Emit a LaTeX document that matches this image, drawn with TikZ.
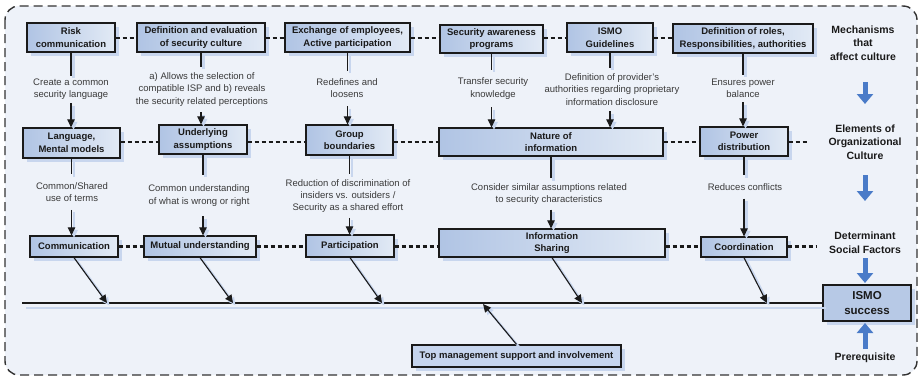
\documentclass[tikz,border=0pt]{standalone}
\usepackage{fontspec}
\setmainfont{Liberation Sans}
\usetikzlibrary{arrows.meta,shadows}

\definecolor{bgpanel}{HTML}{EEF2F9}
\definecolor{boxdark}{HTML}{B0C4E4}
\definecolor{boxlight}{HTML}{E2EAF5}
\definecolor{shade}{HTML}{C8D6EE}
\definecolor{ink}{HTML}{1A1A1A}
\definecolor{note}{HTML}{3A3A3A}
\definecolor{flow}{HTML}{4A7BC8}
\definecolor{goalfill}{HTML}{B7C9E6}
\definecolor{topfill}{HTML}{C6D5EE}
\definecolor{frame}{HTML}{333333}

\tikzset{
  boxbase/.style={draw=ink, line width=1.3pt, align=center, inner sep=0pt,
    text=ink, font=\fontsize{9.5}{12.5}\selectfont\bfseries,
    drop shadow={shadow xshift=3.5pt, shadow yshift=-3.5pt, fill=shade, opacity=1}},
  box/.style={boxbase, left color=boxdark, right color=boxlight},
  note/.style={font=\fontsize{9.5}{12.2}\selectfont, text=note, align=center, inner xsep=2pt},
  head/.style={font=\fontsize{10.5}{13.5}\selectfont\bfseries, text=ink, align=center, inner sep=0pt},
  conn/.style={draw=ink, line width=1.1pt,
    preaction={draw=shade, line width=2.2pt, transform canvas={shift={(2.5pt,-2.5pt)}}}},
  arr/.style={conn, -{Triangle[length=8pt,width=7.5pt]}},
  dots/.style={draw=ink, line width=2.2pt, dash pattern=on 4pt off 3pt},
  spine/.style={draw=ink, line width=2.3pt,
    preaction={draw=shade, line width=2.5pt, transform canvas={shift={(4pt,-5pt)}}}},
  flowarrow/.style={draw=flow, line width=5pt, -{Triangle[length=10pt,width=16pt]}},
}

\begin{document}
\begin{tikzpicture}[x=1pt,y=-1pt]
  % canvas and dashed panel
  \fill[white] (0,0) rectangle (921,378);
  \useasboundingbox (0,0) rectangle (921,378);
  \draw[draw=frame, fill=bgpanel, line width=1.4pt, dash pattern=on 9pt off 5pt,
        rounded corners=14pt] (5,6) rectangle (917,375);

  % guide rows for the dotted links
  \coordinate (rowa) at (0,38);
  \coordinate (rowb) at (0,142);
  \coordinate (rowc) at (0,246.5);

  % mechanisms that affect culture
  \node[box, minimum width=88pt,  minimum height=29pt] (risk)  at (71,37.5)  {Risk\\communication};
  \node[box, minimum width=128pt, minimum height=29pt] (defev) at (201,37.5) {Definition and evaluation\\of security culture};
  \node[box, minimum width=125pt, minimum height=29pt] (exch)  at (347.5,37.5) {Exchange of employees,\\Active participation};
  \node[box, minimum width=103pt, minimum height=28pt] (sap)   at (491.5,39) {Security awareness\\programs};
  \node[box, minimum width=86pt,  minimum height=29pt] (guide) at (610,37.5) {ISMO\\Guidelines};
  \node[box, minimum width=140pt, minimum height=29pt] (roles) at (743,38.5) {Definition of roles,\\Responsibilities, authorities};

  % elements of organizational culture
  \node[box, minimum width=97pt,  minimum height=30pt] (lang)   at (71.5,143) {Language,\\Mental models};
  \node[box, minimum width=88pt,  minimum height=29pt] (under)  at (203,139.5) {Underlying\\assumptions};
  \node[box, minimum width=87pt,  minimum height=30pt] (group)  at (349.5,140) {Group\\boundaries};
  \node[box, minimum width=224pt, minimum height=28pt] (nature) at (551,142) {Nature of\\information};
  \node[box, minimum width=88pt,  minimum height=29pt] (power)  at (744,141.5) {Power\\distribution};

  % determinant social factors
  \node[box, minimum width=88pt,  minimum height=21pt] (comm)   at (74,246.5) {Communication};
  \node[box, minimum width=112pt, minimum height=21pt] (mutual) at (200,246.5) {Mutual understanding};
  \node[box, minimum width=88pt,  minimum height=22pt] (part)   at (350,246) {Participation};
  \node[box, minimum width=226pt, minimum height=28pt] (info)   at (552,243) {Information\\Sharing};
  \node[box, minimum width=86pt,  minimum height=20pt] (coord)  at (744,247) {Coordination};

  % outcome and prerequisite
  \node[boxbase, fill=goalfill, line width=2.5pt, minimum width=88pt, minimum height=36pt,
        font=\fontsize{11.5}{15}\selectfont\bfseries] (goal) at (867,303) {ISMO\\success};
  \node[boxbase, fill=topfill, minimum width=209pt, minimum height=22pt] (top) at (516.5,356)
        {Top management support and involvement};

  % column labels
  \node[head] (mech) at (863,43)    {Mechanisms\\that\\affect culture};
  \node[head] (elem) at (865,142)   {Elements of\\Organizational\\Culture};
  \node[head] (det)  at (865,242.5) {Determinant\\Social Factors};
  \node[head] (pre)  at (865,358)   {Prerequisite};

  % effect descriptions, first stage
  \node[note, inner ysep=3pt] (l1) at (71,89.5)  {Create a common\\security language};
  \node[note, inner ysep=6pt] (l2) at (202,89.5) {a) Allows the selection of\\compatible ISP and b) reveals\\the security related perceptions};
  \node[note, inner ysep=8pt] (l3) at (347,88.5) {Redefines and\\loosens};
  \node[note, inner ysep=8pt] (l4) at (493,88.5) {Transfer security\\knowledge};
  \node[note, inner ysep=6pt] (l5) at (612,89.5) {Definition of provider's\\authorities regarding proprietary\\information disclosure};
  \node[note, inner ysep=4pt] (l6) at (743,88.5) {Ensures power\\balance};

  % effect descriptions, second stage
  \node[note, inner ysep=8pt]  (m1) at (72,192)   {Common/Shared\\use of terms};
  \node[note, inner ysep=10pt] (m2) at (199,195.5) {Common understanding\\of what is wrong or right};
  \node[note, inner ysep=5pt]  (m3) at (348,196)  {Reduction of discrimination of\\insiders vs. outsiders /\\Security as a shared effort};
  \node[note, inner ysep=5pt]  (m4) at (549,194)  {Consider similar assumptions related\\to security characteristics};
  \node[note, inner ysep=8pt]  (m5) at (745,187)  {Reduces conflicts};

  % dotted links along each row
  \draw[dots] (risk.east |- rowa)  -- (defev.west |- rowa);
  \draw[dots] (defev.east |- rowa) -- (exch.west |- rowa);
  \draw[dots] (exch.east |- rowa)  -- (sap.west |- rowa);
  \draw[dots] (sap.east |- rowa)   -- (guide.west |- rowa);
  \draw[dots] (guide.east |- rowa) -- (roles.west |- rowa);

  \coordinate (rowbend) at (808,142);
  \draw[dots] (lang.east |- rowb)   -- (under.west |- rowb);
  \draw[dots] (under.east |- rowb)  -- (group.west |- rowb);
  \draw[dots] (group.east |- rowb)  -- (nature.west |- rowb);
  \draw[dots] (nature.east |- rowb) -- (power.west |- rowb);
  \draw[dots] (power.east |- rowb)  -- (rowbend);

  \coordinate (rowcend) at (817,246.5);
  \draw[dots] (comm.east |- rowc)   -- (mutual.west |- rowc);
  \draw[dots] (mutual.east |- rowc) -- (part.west |- rowc);
  \draw[dots] (part.east |- rowc)   -- (info.west |- rowc);
  \draw[dots] (info.east |- rowc)   -- (coord.west |- rowc);
  \draw[dots] (coord.east |- rowc)  -- (rowcend);

  % mechanisms -> elements
  \draw[conn] (risk.south) -- (risk.south |- l1.north);
  \draw[arr]  (risk.south |- l1.south) -- (risk.south |- lang.north);
  \draw[conn] (defev.south) -- (defev.south |- l2.north);
  \draw[arr]  (defev.south |- l2.south) -- (defev.south |- under.north);
  \draw[conn] (exch.south) -- (exch.south |- l3.north);
  \draw[arr]  (exch.south |- l3.south) -- (exch.south |- group.north);
  \draw[conn] (sap.south) -- (sap.south |- l4.north);
  \draw[arr]  (sap.south |- l4.south) -- (sap.south |- nature.north);
  \draw[conn] (guide.south) -- (guide.south |- l5.north);
  \draw[arr]  (guide.south |- l5.south) -- (guide.south |- nature.north);
  \draw[conn] (roles.south) -- (roles.south |- l6.north);
  \draw[arr]  (roles.south |- l6.south) -- (roles.south |- power.north);

  % elements -> social factors
  \draw[conn] (lang.south) -- (lang.south |- m1.north);
  \draw[arr]  (lang.south |- m1.south) -- (lang.south |- comm.north);
  \draw[conn] (under.south) -- (under.south |- m2.north);
  \draw[arr]  (under.south |- m2.south) -- (under.south |- mutual.north);
  \draw[conn] (group.south) -- (group.south |- m3.north);
  \draw[arr]  (group.south |- m3.south) -- (group.south |- part.north);
  \draw[conn] (nature.south) -- (nature.south |- m4.north);
  \draw[arr]  (nature.south |- m4.south) -- (nature.south |- info.north);
  \draw[conn] (power.south) -- (power.south |- m5.north);
  \draw[arr]  (power.south |- m5.south) -- (power.south |- coord.north);

  % fishbone spine into the outcome
  \coordinate (spine0) at (22,303);
  \coordinate (s1) at (107,303);
  \coordinate (s2) at (233,303);
  \coordinate (s3) at (382,303);
  \coordinate (s4) at (582,303);
  \coordinate (s5) at (767,303);
  \coordinate (s0) at (483,304);
  \draw[spine] (spine0) -- (goal.west);

  \draw[arr] (comm.south)   -- (s1);
  \draw[arr] (mutual.south) -- (s2);
  \draw[arr] (part.south)   -- (s3);
  \draw[arr] (info.south)   -- (s4);
  \draw[arr] (coord.south)  -- (s5);
  \draw[arr] (top.north)    -- (s0);

  % blue flow arrows in the label column
  \coordinate (f1a) at (865,82);  \coordinate (f1b) at (865,104);
  \coordinate (f2a) at (865,175); \coordinate (f2b) at (865,201);
  \coordinate (f3a) at (865,258); \coordinate (f3b) at (865,283);
  \coordinate (f4a) at (865,349); \coordinate (f4b) at (865,323);
  \draw[flowarrow] (f1a) -- (f1b);
  \draw[flowarrow] (f2a) -- (f2b);
  \draw[flowarrow] (f3a) -- (f3b);
  \draw[flowarrow] (f4a) -- (f4b);
\end{tikzpicture}
\end{document}
